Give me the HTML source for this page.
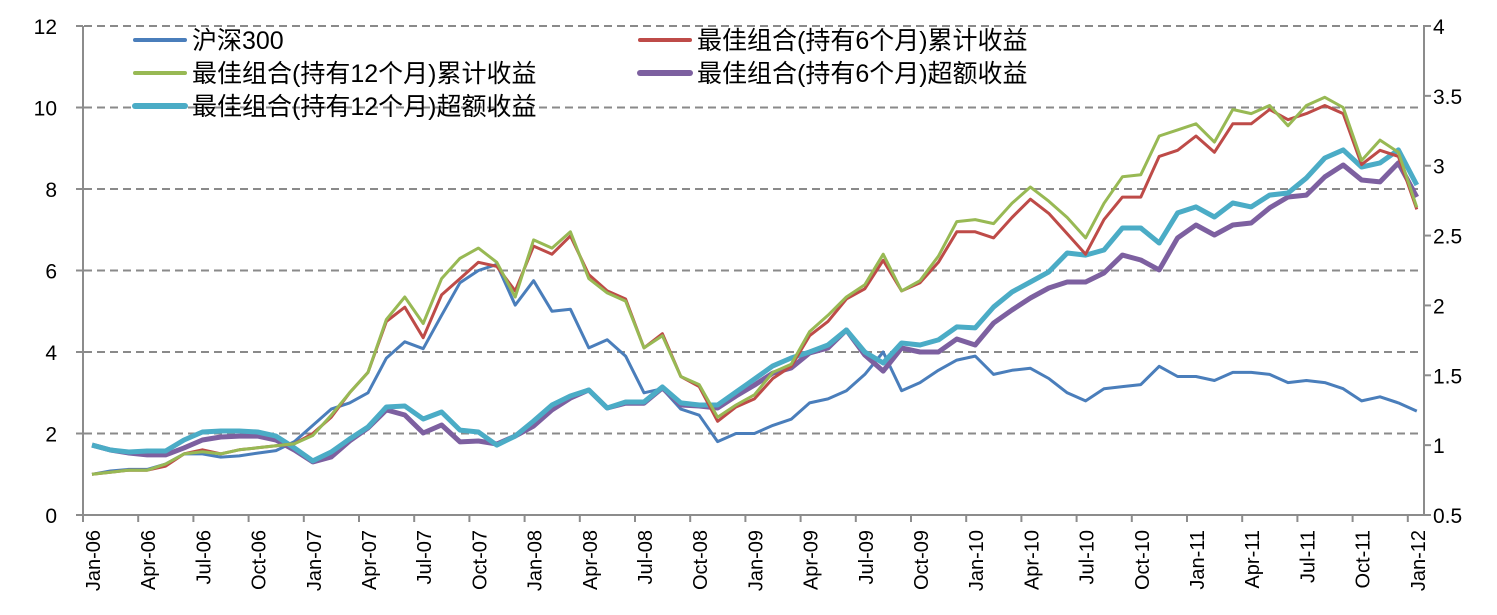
<!DOCTYPE html>
<html><head><meta charset="utf-8"><style>
body{margin:0;background:#fff;}
svg{display:block;font-family:"Liberation Sans","Noto Sans CJK SC",sans-serif;}
</style></head><body>
<svg id="chart" width="1497" height="615" viewBox="0 0 1497 615" xmlns="http://www.w3.org/2000/svg"></svg>
<script>
const months = ["Jan","Feb","Mar","Apr","May","Jun","Jul","Aug","Sep","Oct","Nov","Dec"];
const hs300 = [1.0,1.08,1.12,1.12,1.25,1.5,1.5,1.42,1.45,1.52,1.58,1.8,2.2,2.6,2.75,3.0,3.85,4.25,4.08,4.9,5.7,6.0,6.15,5.15,5.75,5.0,5.05,4.1,4.3,3.9,3.0,3.1,2.6,2.45,1.8,2.0,2.0,2.2,2.35,2.75,2.85,3.05,3.45,4.0,3.05,3.25,3.55,3.8,3.9,3.45,3.55,3.6,3.35,3.0,2.8,3.1,3.15,3.2,3.65,3.4,3.4,3.3,3.5,3.5,3.45,3.25,3.3,3.25,3.1,2.8,2.9,2.75,2.55];
const cum6 = [1.0,1.05,1.1,1.1,1.2,1.5,1.6,1.5,1.6,1.65,1.7,1.75,2.0,2.4,3.0,3.5,4.75,5.1,4.35,5.4,5.8,6.2,6.1,5.5,6.6,6.4,6.85,5.9,5.5,5.3,4.1,4.45,3.4,3.15,2.3,2.65,2.85,3.35,3.65,4.4,4.75,5.3,5.55,6.25,5.5,5.7,6.2,6.95,6.95,6.8,7.3,7.75,7.4,6.9,6.4,7.25,7.8,7.8,8.8,8.95,9.3,8.9,9.6,9.6,9.95,9.7,9.85,10.05,9.85,8.6,8.95,8.8,7.5];
const cum12 = [1.0,1.05,1.1,1.1,1.25,1.5,1.55,1.5,1.6,1.65,1.7,1.75,1.95,2.45,3.0,3.5,4.8,5.35,4.7,5.8,6.3,6.55,6.2,5.35,6.75,6.55,6.95,5.8,5.45,5.25,4.1,4.4,3.4,3.2,2.4,2.7,2.95,3.5,3.7,4.5,4.9,5.35,5.65,6.4,5.5,5.75,6.35,7.2,7.25,7.15,7.65,8.05,7.7,7.3,6.8,7.65,8.3,8.35,9.3,9.45,9.6,9.15,9.95,9.85,10.05,9.55,10.05,10.25,10.0,8.7,9.2,8.9,7.55];
const ex6 = [1.0,0.965,0.944,0.93,0.93,0.98,1.037,1.058,1.065,1.065,1.037,0.965,0.88,0.915,1.03,1.123,1.252,1.216,1.087,1.144,1.023,1.03,1.008,1.065,1.137,1.252,1.337,1.395,1.266,1.3,1.3,1.41,1.287,1.28,1.266,1.352,1.43,1.516,1.552,1.66,1.695,1.824,1.645,1.53,1.695,1.667,1.667,1.76,1.717,1.874,1.967,2.053,2.125,2.168,2.168,2.232,2.36,2.325,2.254,2.483,2.576,2.504,2.576,2.59,2.698,2.776,2.79,2.92,3.005,2.898,2.884,3.02,2.776];
const ex12 = [1.0,0.965,0.951,0.958,0.958,1.037,1.094,1.101,1.101,1.094,1.065,0.98,0.887,0.951,1.044,1.13,1.273,1.28,1.187,1.237,1.108,1.094,1.0,1.065,1.173,1.287,1.352,1.395,1.266,1.309,1.309,1.416,1.302,1.287,1.287,1.38,1.473,1.567,1.624,1.667,1.717,1.824,1.667,1.588,1.731,1.717,1.753,1.846,1.839,1.989,2.096,2.168,2.24,2.375,2.36,2.397,2.554,2.554,2.447,2.662,2.705,2.633,2.733,2.705,2.79,2.805,2.912,3.055,3.113,2.991,3.02,3.113,2.862];
const leftTicks = [0,2,4,6,8,10,12];
const rightTicks = [0.5,1,1.5,2,2.5,3,3.5,4];

const NS="http://www.w3.org/2000/svg";
const svg=document.getElementById('chart');
const X0=92, DX=18.4, YB=515, YT=26;
const xs=i=>X0+i*DX;
const yl=v=>YB-(v-0)/12*(YB-YT);
const yr=v=>YB-(v-0.5)/3.5*(YB-YT);
function mk(tag,attrs,parent){const e=document.createElementNS(NS,tag);for(const k in attrs)e.setAttribute(k,attrs[k]);(parent||svg).appendChild(e);return e;}

leftTicks.forEach(v=>{ if(v===0) return;
  const g=mk('line',{x1:84,x2:1424,y1:yl(v),y2:yl(v),stroke:'#8a8a8a','stroke-width':2,'stroke-dasharray':'8,5'});
  
  
});
const la=mk('line',{x1:83,x2:83,y1:YT,y2:YB,stroke:'#8c8c8c','stroke-width':2});


const ra=mk('line',{x1:1424,x2:1424,y1:YT,y2:YB,stroke:'#8c8c8c','stroke-width':2});


const xa=mk('line',{x1:76,x2:1424,y1:YB,y2:YB,stroke:'#8c8c8c','stroke-width':2});



leftTicks.forEach(v=>{
  mk('line',{x1:76,x2:83,y1:yl(v),y2:yl(v),stroke:'#8c8c8c','stroke-width':2});
  const t=mk('text',{x:57,y:yl(v)+8,'text-anchor':'end','font-size':21,fill:'#000'});
  t.textContent=v;
  
  
});
rightTicks.forEach(v=>{
  mk('line',{x1:1424,x2:1431,y1:yr(v),y2:yr(v),stroke:'#8c8c8c','stroke-width':2});
  const t=mk('text',{x:1433,y:yr(v)+8,'text-anchor':'start','font-size':21,fill:'#000'});
  t.textContent=v;
  
  
});
for(let i=0;i<hs300.length;i++){
  const x=xs(i);
  if(i%3===0){
    const tx=x-9;
    mk('line',{x1:tx,x2:tx,y1:YB,y2:YB+7,stroke:'#8c8c8c','stroke-width':2});
    const yr2=6+Math.floor(i/12);
    const lab=months[i%12]+'-'+String(yr2).padStart(2,'0');
    const t=mk('text',{x:0,y:0,'text-anchor':'end','font-size':20,fill:'#000',transform:`translate(${x+8},530) rotate(-90)`});
    t.textContent=lab;
    
    
  }
}
function series(data,ymap,color,w,name){
  const p=data.map((v,i)=>(i?'L':'M')+xs(i).toFixed(1)+','+ymap(v).toFixed(1)).join(' ');
  const e=mk('path',{d:p,fill:'none',stroke:color,'stroke-width':w,'stroke-linejoin':'round'});
  
  
}
series(hs300,yl,'#4a7ebb',3,'series-hs300');
series(ex6,yr,'#7d60a0',5,'series-excess-6m');
series(ex12,yr,'#4bacc6',5,'series-excess-12m');
series(cum6,yl,'#be4b48',3,'series-cumulative-6m');
series(cum12,yl,'#98b954',3,'series-cumulative-12m');

const leg=[["沪深300",'#4a7ebb',3,135,40],["最佳组合(持有6个月)累计收益",'#be4b48',3,640,40],["最佳组合(持有12个月)累计收益",'#98b954',3,135,73],["最佳组合(持有6个月)超额收益",'#7d60a0',5,640,73],["最佳组合(持有12个月)超额收益",'#4bacc6',5,135,106]];
leg.forEach(l=>{
  const g=mk('g',{});
  
  
  mk('line',{x1:l[3],x2:l[3]+50,y1:l[4],y2:l[4],stroke:l[1],'stroke-width':l[2]+1,'stroke-linecap':'round'},g);
  const t=mk('text',{x:l[3]+57,y:l[4]+9,'font-size':25,fill:'#000'},g);
  t.textContent=l[0];
});
</script>
</body></html>
